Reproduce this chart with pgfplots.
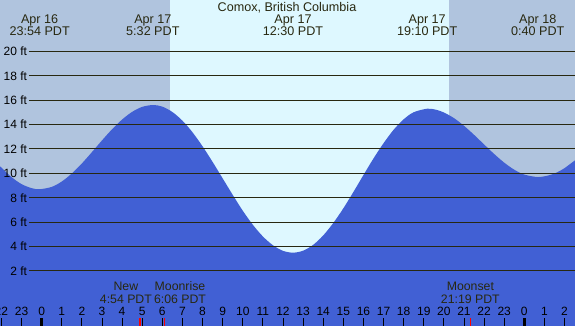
\documentclass[border=0pt]{standalone}
\usepackage{pgfplots}
\pgfplotsset{compat=1.18}
\usepackage{fontspec}
\setmainfont{Liberation Sans}

\definecolor{night}{RGB}{176,196,222}
\definecolor{day}{RGB}{222,248,255}
\definecolor{water}{RGB}{65,96,212}
\definecolor{ink}{RGB}{40,40,16}

\begin{document}
\begin{tikzpicture}
\begin{axis}[
  width=575pt, height=326pt, scale only axis,
  xmin=-2.07, xmax=26.52,
  ymin=-2.51, ymax=24.21,
  axis lines=none,
  clip=false,
  every node/.style={text=ink},
]
% night / day background
\begin{scope}
\clip (axis cs:-2.07,-2.51) rectangle (axis cs:26.52,24.21);
\addplot[fill=night, draw=none] coordinates {(-3,-3)(6.38,-3)(6.38,25)(-3,25)} -- cycle;
\addplot[fill=day, draw=none] coordinates {(6.38,-3)(20.25,-3)(20.25,25)(6.38,25)} -- cycle;
\addplot[fill=night, draw=none] coordinates {(20.25,-3)(27,-3)(27,25)(20.25,25)} -- cycle;

% tide height (ft) against hours from midnight Apr 17
\addplot[fill=water, draw=none, smooth] coordinates {
  (-2.1,10.63) (-1.5,9.70) (-1,9.12) (-0.5,8.79) (-0.1,8.7) (0.5,8.89)
  (1,9.33) (1.5,9.99) (2,10.81) (2.5,11.74) (3,12.70) (3.5,13.61)
  (4,14.41) (4.5,15.04) (5,15.45) (5.53,15.6) (6,15.47) (6.5,15.03)
  (7,14.32) (7.5,13.37) (8,12.22) (8.5,10.94) (9,9.59) (9.5,8.24)
  (10,6.94) (10.5,5.79) (11,4.83) (11.5,4.11) (12,3.65) (12.5,3.5)
  (13,3.66) (13.5,4.14) (14,4.91) (14.5,5.93) (15,7.13) (15.5,8.47)
  (16,9.86) (16.5,11.22) (17,12.47) (17.5,13.57) (18,14.43) (18.5,15.01)
  (19.17,15.3) (19.6,15.22) (20,14.99) (20.5,14.53) (21,13.90) (21.5,13.16)
  (22,12.37) (22.5,11.59) (23,10.88) (23.5,10.30) (24,9.90) (24.67,9.7)
  (25.2,9.83) (25.6,10.06) (26,10.43) (26.6,11.17)
} \closedcycle;
\addplot[fill=water, draw=none] coordinates {(-3,-3)(27,-3)(27,1)(-3,1)} -- cycle;
\end{scope}

% grid lines and height labels
\pgfplotsinvokeforeach{2,4,...,20}{
  \addplot[ink, line width=1pt] coordinates {(-0.63,#1)(26.52,#1)};
  \node[anchor=east, inner sep=0pt, font=\fontsize{12}{13}\selectfont] at (axis cs:-0.72,#1) {#1 ft};
}

% hour ticks and labels
\pgfplotsinvokeforeach{-2,...,26}{
  \addplot[black, line width=0.8pt] coordinates {(#1,-2.51)(#1,-1.85)};
  \node[anchor=base, inner sep=0pt, font=\fontsize{12}{13}\selectfont] at (axis cs:#1,-1.66)
    {\pgfmathtruncatemacro\hr{mod(#1+24,24)}\hr};
}
\addplot[black, line width=3pt] coordinates {(0,-2.51)(0,-1.85)};
\addplot[black, line width=3pt] coordinates {(24,-2.51)(24,-1.85)};
\addplot[red, line width=1.4pt] coordinates {(4.9,-2.51)(4.9,-1.85)};
\addplot[red, line width=1.4pt] coordinates {(6.1,-2.51)(6.1,-1.85)};
\addplot[red, line width=1.4pt] coordinates {(21.317,-2.51)(21.317,-1.85)};

% moon events
\begin{scope}[every node/.style={anchor=base, inner sep=0pt, text=ink, font=\fontsize{12.3}{13}\selectfont}]
\node at (axis cs:4.19,0.39) {New};
\node at (axis cs:4.19,-0.65) {4:54 PDT};
\node at (axis cs:6.88,0.39) {Moonrise};
\node at (axis cs:6.88,-0.65) {6:06 PDT};
\node at (axis cs:21.317,0.39) {Moonset};
\node at (axis cs:21.317,-0.65) {21:19 PDT};
\end{scope}

% title and tide events
\begin{scope}[every node/.style={anchor=base, inner sep=0pt, text=ink, font=\fontsize{12.6}{13}\selectfont}]
\node at (axis cs:12.2,23.25) {Comox, British Columbia};
\node at (axis cs:-0.1,22.30) {Apr 16};
\node at (axis cs:-0.1,21.29) {23:54 PDT};
\node at (axis cs:5.53,22.30) {Apr 17};
\node at (axis cs:5.53,21.29) {5:32 PDT};
\node at (axis cs:12.5,22.30) {Apr 17};
\node at (axis cs:12.5,21.29) {12:30 PDT};
\node at (axis cs:19.17,22.30) {Apr 17};
\node at (axis cs:19.17,21.29) {19:10 PDT};
\node at (axis cs:24.67,22.30) {Apr 18};
\node at (axis cs:24.67,21.29) {0:40 PDT};
\end{scope}
\end{axis}
\pgfresetboundingbox
\path[use as bounding box] (current axis.south west) rectangle (current axis.north east);
\end{tikzpicture}
\end{document}
